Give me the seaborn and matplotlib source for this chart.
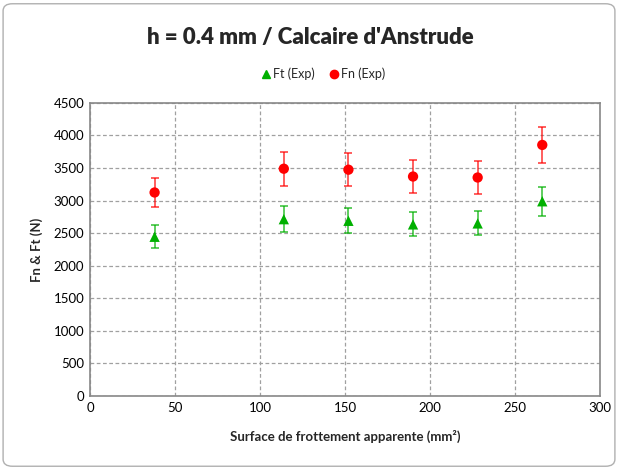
import pandas as pd
import numpy as np
import matplotlib.pyplot as plt
import seaborn as sns
from matplotlib.patches import FancyBboxPatch

surface = [38, 114, 152, 190, 228, 266]
ft_exp = [2445, 2715, 2690, 2635, 2650, 2990]
ft_err = [175, 200, 190, 185, 185, 220]
fn_exp = [3125, 3490, 3475, 3370, 3355, 3855]
fn_err = [225, 260, 250, 250, 255, 275]

sns.set_theme(style="white")
plt.rcParams['font.family'] = ['Lato', 'DejaVu Sans']

df = pd.DataFrame({
    'Surface': surface * 2,
    'Force': ft_exp + fn_exp,
    'Err': ft_err + fn_err,
    'Serie': ['Ft (Exp)'] * len(surface) + ['Fn (Exp)'] * len(surface),
})

fig = plt.figure(figsize=(6.18, 4.70), dpi=100)
ax = fig.add_axes([0.1456, 0.1574, 0.8254, 0.6236])

colors = {'Ft (Exp)': '#00b000', 'Fn (Exp)': '#ff0000'}
for name, g in df.groupby('Serie', sort=False):
    ax.errorbar(g['Surface'], g['Force'], yerr=g['Err'], fmt='none',
                ecolor=colors[name], elinewidth=1.1, capsize=3, capthick=1.1, alpha=0.8, zorder=3)

sns.scatterplot(data=df, x='Surface', y='Force', hue='Serie', style='Serie',
                palette=colors, markers={'Ft (Exp)': '^', 'Fn (Exp)': 'o'},
                s=55, edgecolor='none', ax=ax, zorder=4, legend=False)

ax.set_xlim(0, 300)
ax.set_ylim(0, 4500)
ax.set_xticks(np.arange(0, 301, 50))
ax.set_yticks(np.arange(0, 4501, 500))
ax.grid(True, color='#a0a0a0', linestyle=(0, (3, 2)), linewidth=0.9)
for sp in ax.spines.values():
    sp.set_color('#888888')
    sp.set_linewidth(1.2)
ax.tick_params(axis='both', labelsize=9.5, colors='black', length=0, pad=4)

ax.set_xlabel('Surface de frottement apparente (mm²)', fontsize=9.5, fontweight='bold', labelpad=12)
ax.set_ylabel('Fn & Ft (N)', fontsize=9.5, fontweight='bold', labelpad=8)

fig.text(0.502, 0.921, "h = 0.4 mm / Calcaire d'Anstrude", ha='center', va='center',
         fontsize=16, fontweight='heavy')

# legend
handles = [plt.Line2D([], [], marker='^', color='#00b000', linestyle='none', markersize=6),
           plt.Line2D([], [], marker='o', color='#ff0000', linestyle='none', markersize=6)]
fig.legend(handles, ['Ft (Exp)', 'Fn (Exp)'], loc='center', bbox_to_anchor=(0.522, 0.843),
           ncol=2, frameon=False, fontsize=9, handletextpad=0.1, columnspacing=1.0,
           handlelength=1.0)

border = FancyBboxPatch((0.005, 0.008), 0.99, 0.984, boxstyle='round,pad=0,rounding_size=0.015',
                        transform=fig.transFigure, facecolor='none', edgecolor='#b0b0b0', linewidth=1)
fig.patches.append(border)

fig.savefig('out.png', dpi=100)
